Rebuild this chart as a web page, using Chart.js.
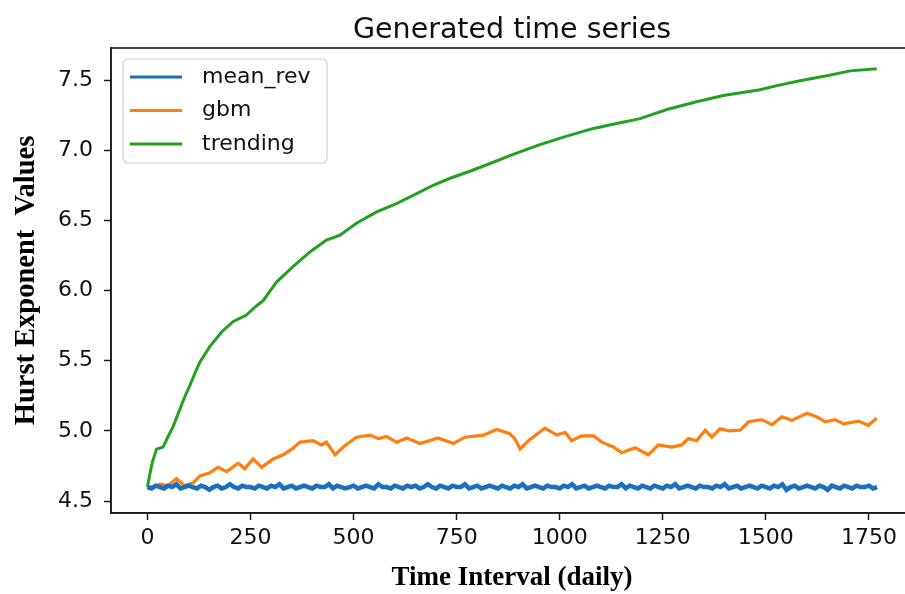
<!DOCTYPE html>
<html>
<head>
<meta charset="utf-8">
<script src="https://cdn.jsdelivr.net/npm/chart.js@4.4.1/dist/chart.umd.min.js"></script>
<style>
  html, body { margin: 0; padding: 0; background: #fff; overflow: hidden; }
  #wrap { width: 913px; height: 594px; }
</style>
</head>
<body>
<div id="wrap"><canvas id="miChart" width="913" height="594"></canvas></div>
<script>
// Datos (dias, valores)
var seriesLabels = ['mean_rev', 'gbm', 'trending'];

// mean_rev: un valor cada 10 dias, de 0 a 1770
var meanRevStep = 10;
var meanRevY = [
  4.60,4.59,4.61,4.60,4.59,4.61,4.60,4.62,4.59,4.60,
  4.61,4.60,4.59,4.61,4.60,4.58,4.60,4.61,4.59,4.60,
  4.62,4.60,4.59,4.61,4.60,4.60,4.59,4.61,4.60,4.59,
  4.61,4.60,4.62,4.59,4.60,4.61,4.59,4.60,4.61,4.60,
  4.59,4.61,4.60,4.60,4.62,4.59,4.61,4.60,4.59,4.60,
  4.61,4.59,4.60,4.61,4.60,4.59,4.62,4.60,4.60,4.59,
  4.61,4.60,4.59,4.61,4.60,4.61,4.59,4.60,4.62,4.60,
  4.59,4.61,4.60,4.59,4.61,4.60,4.60,4.62,4.59,4.60,
  4.61,4.59,4.60,4.61,4.60,4.59,4.61,4.60,4.59,4.61,
  4.60,4.62,4.59,4.60,4.61,4.60,4.59,4.61,4.60,4.60,
  4.59,4.61,4.60,4.62,4.59,4.60,4.61,4.59,4.60,4.61,
  4.60,4.59,4.61,4.60,4.60,4.62,4.59,4.61,4.60,4.59,
  4.61,4.60,4.59,4.61,4.60,4.59,4.61,4.60,4.62,4.59,
  4.60,4.61,4.60,4.59,4.61,4.60,4.60,4.59,4.61,4.60,
  4.62,4.59,4.60,4.61,4.59,4.60,4.61,4.60,4.59,4.61,
  4.60,4.59,4.61,4.60,4.62,4.58,4.60,4.61,4.59,4.60,
  4.61,4.60,4.59,4.61,4.60,4.58,4.61,4.60,4.59,4.61,
  4.60,4.59,4.61,4.60,4.60,4.61,4.59,4.60
];

// gbm
var gbmX = [0,15,30,50,70,90,111,127,150,171,192,220,236,256,277,305,329,350,370,402,
  422,434,455,475,507,540,560,580,604,629,661,705,742,770,815,847,879,891,904,924,
  964,993,1013,1029,1053,1082,1102,1130,1150,1183,1215,1239,1272,1296,1312,1332,1353,1369,1389,1410,
  1438,1458,1490,1515,1539,1563,1600,1624,1644,1668,1688,1725,1749,1769];
var gbmY = [4.60,4.60,4.62,4.61,4.66,4.61,4.63,4.68,4.70,4.74,4.71,4.77,4.73,4.80,4.74,4.80,4.83,4.87,4.92,4.93,
  4.90,4.92,4.83,4.885,4.955,4.97,4.945,4.96,4.92,4.95,4.91,4.95,4.91,4.955,4.97,5.01,4.98,4.945,4.87,4.93,
  5.02,4.97,4.99,4.93,4.965,4.965,4.92,4.885,4.845,4.88,4.83,4.90,4.885,4.90,4.945,4.93,5.005,4.955,5.015,5.00,
  5.005,5.065,5.08,5.045,5.10,5.075,5.125,5.10,5.065,5.08,5.05,5.07,5.04,5.09];

// trending
var trendX = [0,5,12,22,38,50,62,78,90,103,115,127,151,180,208,240,260,281,313,353,
  394,434,467,507,556,604,653,693,734,782,831,887,952,1017,1082,1138,1195,1260,1332,1397,
  1486,1527,1583,1648,1705,1769];
var trendY = [4.60,4.68,4.78,4.87,4.885,4.96,5.03,5.15,5.24,5.325,5.41,5.49,5.60,5.705,5.78,5.825,5.88,5.93,6.06,6.17,
  6.275,6.36,6.395,6.48,6.56,6.62,6.69,6.75,6.80,6.85,6.905,6.97,7.04,7.10,7.155,7.19,7.225,7.29,7.345,7.39,
  7.43,7.46,7.495,7.53,7.565,7.58];

// Ticks
var xTicks = [0, 250, 500, 750, 1000, 1250, 1500, 1750];
var yTicks = [4.5, 5.0, 5.5, 6.0, 6.5, 7.0, 7.5];

var colores = ['#1a6fc0', '#ff7f0e', '#22a022'];

function puntos(xs, ys) {
  return ys.map(function(v, i) { return { x: xs[i], y: v }; });
}
var meanRevX = meanRevY.map(function(v, i) { return i * meanRevStep; });

Chart.defaults.font.family = 'DejaVu Sans';
Chart.defaults.color = '#111';

// Marco del area de grafica y leyenda dentro de la grafica
var marcoPlugin = {
  id: 'marco',
  afterDraw: function(chart) {
    var c = chart.ctx, a = chart.chartArea;
    c.save();
    c.strokeStyle = '#1a1a1a';
    c.lineWidth = 1.6;
    c.strokeRect(a.left, a.top, a.right - a.left, a.bottom - a.top);

    // leyenda
    var bx = a.left + 12, by = a.top + 11, bw = 204, bh = 104;
    c.beginPath();
    c.roundRect(bx, by, bw, bh, 5);
    c.fillStyle = 'rgba(255,255,255,0.8)';
    c.fill();
    c.strokeStyle = '#d0d0d0';
    c.lineWidth = 1.2;
    c.stroke();
    c.font = '22px "DejaVu Sans"';
    c.textBaseline = 'middle';
    chart.data.datasets.forEach(function(ds, i) {
      var yy = by + 18 + i * 33.5;
      c.strokeStyle = ds.borderColor;
      c.lineWidth = 3;
      c.beginPath();
      c.moveTo(bx + 7, yy);
      c.lineTo(bx + 59, yy);
      c.stroke();
      c.fillStyle = '#111';
      c.fillText(ds.label, bx + 79, yy);
    });
    c.restore();
  }
};

var ctx = document.getElementById('miChart').getContext('2d');
var myChart = new Chart(ctx, {
  type: 'line',
  data: {
    datasets: [
      { label: seriesLabels[0], data: puntos(meanRevX, meanRevY), borderColor: colores[0], borderWidth: 4.5 },
      { label: seriesLabels[1], data: puntos(gbmX, gbmY), borderColor: colores[1], borderWidth: 3.2 },
      { label: seriesLabels[2], data: puntos(trendX, trendY), borderColor: colores[2], borderWidth: 3 }
    ]
  },
  options: {
    responsive: false,
    animation: false,
    events: [],
    elements: { point: { radius: 0 }, line: { tension: 0 } },
    layout: { padding: 0 },
    plugins: {
      legend: { display: false },
      tooltip: { enabled: false },
      title: {
        display: true,
        fullSize: false,
        text: 'Generated time series',
        font: { size: 28.5, weight: 'normal' },
        color: '#111',
        padding: { top: 13, bottom: 0.8 }
      }
    },
    scales: {
      x: {
        type: 'linear',
        min: -88.5,
        max: 1857,
        afterFit: function(s) { s.height = 81; },
        afterBuildTicks: function(s) { s.ticks = xTicks.map(function(v) { return { value: v }; }); },
        ticks: {
          font: { size: 22 }, color: '#111', padding: 5, maxRotation: 0, autoSkip: false,
          callback: function(v) { return String(v); }
        },
        grid: { drawOnChartArea: false, drawTicks: true, tickLength: 7, tickWidth: 1.5, color: '#1a1a1a' },
        border: { display: true, color: '#1a1a1a', width: 1.6 },
        title: {
          display: true,
          text: 'Time Interval (daily)',
          font: { family: '"Liberation Serif"', size: 27, weight: 'bold' },
          color: '#000',
          padding: 0
        }
      },
      y: {
        type: 'linear',
        min: 4.415,
        max: 7.728,
        afterFit: function(s) { s.width = 111; },
        afterBuildTicks: function(s) { s.ticks = yTicks.map(function(v) { return { value: v }; }); },
        ticks: {
          font: { size: 22 }, color: '#111', padding: 11, autoSkip: false,
          callback: function(v) { return v.toFixed(1); }
        },
        grid: { drawOnChartArea: false, drawTicks: true, tickLength: 7, tickWidth: 1.5, color: '#1a1a1a' },
        border: { display: true, color: '#1a1a1a', width: 1.6 },
        title: {
          display: true,
          text: 'Hurst Exponent  Values',
          font: { family: '"Liberation Serif"', size: 28.5, weight: 'bold' },
          color: '#000',
          padding: { top: 10, bottom: 0 }
        }
      }
    }
  },
  plugins: [marcoPlugin]
});
</script>
</body>
</html>
